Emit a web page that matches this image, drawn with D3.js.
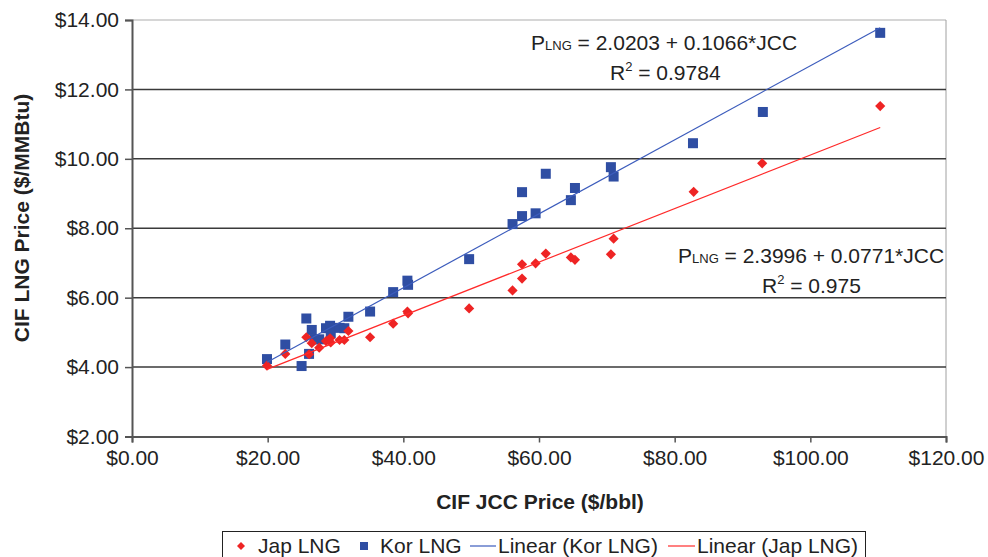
<!DOCTYPE html>
<html>
<head>
<meta charset="utf-8">
<script src="https://cdn.jsdelivr.net/npm/d3@7"></script>
<style>
  html, body { margin: 0; padding: 0; background: #fff; }
  svg { display: block; font-family: "Liberation Sans", Arial, sans-serif; }
</style>
</head>
<body>
<svg id="chart" width="988" height="557"></svg>
<script>
// CIF JCC price ($/bbl) and matching CIF LNG prices ($/MMBtu)
const korJcc = [19.9, 22.6, 25.0, 25.7, 26.1, 26.5, 26.9, 27.6, 28.6, 29.2, 29.3, 30.6, 31.3, 31.9,
  35.1, 38.5, 40.6, 40.7, 49.7, 56.1, 57.5, 57.5, 59.5, 61.0, 64.7, 65.3, 70.6, 71.0, 82.7, 93.0, 110.3];
const korLng = [4.23, 4.65, 4.03, 5.40, 4.38, 5.07, 4.80, 4.80, 5.12, 5.19, 4.97, 5.13, 5.12, 5.45,
  5.60, 6.16, 6.49, 6.37, 7.11, 8.12, 8.35, 9.04, 8.43, 9.57, 8.81, 9.16, 9.76, 9.49, 10.45, 11.35, 13.63];

const japJcc = [19.9, 22.6, 25.7, 26.1, 26.5, 27.6, 28.6, 29.2, 29.3, 30.6, 31.3, 31.9,
  35.1, 38.5, 40.6, 40.7, 49.7, 56.1, 57.5, 57.5, 59.5, 61.0, 64.7, 65.3, 70.6, 71.0, 82.8, 92.9, 110.3];
const japLng = [4.04, 4.38, 4.86, 4.37, 4.69, 4.56, 4.75, 4.83, 4.71, 4.78, 4.78, 5.04,
  4.86, 5.25, 5.60, 5.55, 5.69, 6.21, 6.55, 6.96, 6.99, 7.27, 7.16, 7.09, 7.25, 7.70, 9.05, 9.87, 11.52];

// Linear trend fits: [intercept, slope, R²]
const korFit = [2.0203, 0.1066, 0.9784];
const japFit = [2.3996, 0.0771, 0.975];

const xTicks = [0, 20, 40, 60, 80, 100, 120];
const yTicks = [2, 4, 6, 8, 10, 12, 14];

const KOR_COLOR = "#2f4ea3";
const JAP_COLOR = "#ee2424";

const svg = d3.select("#chart");
const plotL = 132, plotR = 946, plotT = 20, plotB = 436.5;

const x = d3.scaleLinear().domain([0, 120]).range([plotL, plotR]);
const y = d3.scaleLinear().domain([2, 14]).range([plotB, plotT]);
const money = d => "$" + d3.format(".2f")(d);

// plot frame (top and right edges in light gray)
svg.append("line").attr("x1", plotL).attr("x2", plotR).attr("y1", plotT).attr("y2", plotT)
  .attr("stroke", "#c8c8c8").attr("stroke-width", 1.5);
svg.append("line").attr("x1", plotR).attr("x2", plotR).attr("y1", plotT).attr("y2", plotB)
  .attr("stroke", "#a0a0a0").attr("stroke-width", 1);

// horizontal gridlines
svg.append("g").selectAll("line")
  .data(yTicks.filter(d => d > 2 && d < 14))
  .join("line")
  .attr("x1", plotL).attr("x2", plotR)
  .attr("y1", d => y(d)).attr("y2", d => y(d))
  .attr("stroke", "#3a3a3a").attr("stroke-width", 1.5);

// axes
const yAxis = svg.append("g").attr("transform", `translate(${plotL},0)`)
  .call(d3.axisLeft(y).tickValues(yTicks).tickFormat(money).tickSize(7).tickPadding(6));
const xAxis = svg.append("g").attr("transform", `translate(0,${plotB})`)
  .call(d3.axisBottom(x).tickValues(xTicks).tickFormat(money).tickSize(6).tickPadding(8));
[yAxis, xAxis].forEach(g => {
  g.select(".domain").attr("stroke", "#555").attr("stroke-width", 2);
  g.selectAll(".tick line").attr("stroke", "#555").attr("stroke-width", 1.5);
  g.selectAll(".tick text").attr("fill", "#222").attr("font-size", 21)
    .attr("font-family", "Liberation Sans, Arial, sans-serif");
});

// axis titles
svg.append("text").attr("x", 540).attr("y", 509).attr("text-anchor", "middle")
  .attr("font-size", 21).attr("font-weight", "bold").attr("fill", "#222")
  .text("CIF JCC Price ($/bbl)");
svg.append("text").attr("transform", "translate(29,218) rotate(-90)").attr("text-anchor", "middle")
  .attr("font-size", 21).attr("font-weight", "bold").attr("fill", "#222")
  .text("CIF LNG Price ($/MMBtu)");

// data points: Korea as squares, Japan as diamonds
svg.append("g").selectAll("rect")
  .data(d3.zip(korJcc, korLng))
  .join("rect")
  .attr("x", d => x(d[0]) - 5).attr("y", d => y(d[1]) - 5)
  .attr("width", 10).attr("height", 10)
  .attr("fill", KOR_COLOR);
svg.append("g").selectAll("path")
  .data(d3.zip(japJcc, japLng))
  .join("path")
  .attr("d", d3.symbol().type(d3.symbolSquare).size(52))
  .attr("transform", d => `translate(${x(d[0])},${y(d[1])}) rotate(45)`)
  .attr("fill", JAP_COLOR);

// trend lines over the range of the data
const xMin = d3.min(korJcc), xMax = d3.max(korJcc);
function trend(fit, color) {
  svg.append("line")
    .attr("x1", x(xMin)).attr("y1", y(fit[0] + fit[1] * xMin))
    .attr("x2", x(xMax)).attr("y2", y(fit[0] + fit[1] * xMax))
    .attr("stroke", color).attr("stroke-width", 1.2);
}
trend(korFit, "#3c5cbc");
trend(japFit, "#ff2a2a");

// equation labels
function equation(fit, px, py, rx) {
  const t = svg.append("text").attr("x", px).attr("y", py)
    .attr("font-size", 21).attr("fill", "#222").attr("xml:space", "preserve");
  t.append("tspan").text("P");
  t.append("tspan").attr("font-size", 13).text("LNG");
  t.append("tspan").text(" = " + fit[0].toFixed(4) + " + " + fit[1].toFixed(4) + "*JCC");
  const r = svg.append("text").attr("x", rx).attr("y", py + 30)
    .attr("font-size", 21).attr("fill", "#222");
  r.append("tspan").text("R");
  r.append("tspan").attr("font-size", 13).attr("dy", -9).text("2");
  r.append("tspan").attr("dy", 9).text(" = " + fit[2]);
}
equation(korFit, 531, 50, 610);
equation(japFit, 678, 263, 762);

// legend
const lg = svg.append("g");
lg.append("rect").attr("x", 222.5).attr("y", 531.5).attr("width", 643).attr("height", 30)
  .attr("fill", "#fff").attr("stroke", "#222").attr("stroke-width", 1);
lg.append("path").attr("d", d3.symbol().type(d3.symbolSquare).size(32))
  .attr("transform", "translate(241,546) rotate(45)").attr("fill", JAP_COLOR);
lg.append("text").attr("x", 258).attr("y", 553).attr("font-size", 21).attr("fill", "#222").text("Jap LNG");
lg.append("rect").attr("x", 360).attr("y", 542).attr("width", 8).attr("height", 8).attr("fill", KOR_COLOR);
lg.append("text").attr("x", 380).attr("y", 553).attr("font-size", 21).attr("fill", "#222").text("Kor LNG");
lg.append("line").attr("x1", 470).attr("x2", 496).attr("y1", 546).attr("y2", 546)
  .attr("stroke", "#3c5cbc").attr("stroke-width", 1.2);
lg.append("text").attr("x", 498).attr("y", 553).attr("font-size", 21).attr("fill", "#222").text("Linear (Kor LNG)");
lg.append("line").attr("x1", 668).attr("x2", 695).attr("y1", 546).attr("y2", 546)
  .attr("stroke", "#ff2a2a").attr("stroke-width", 1.2);
lg.append("text").attr("x", 697).attr("y", 553).attr("font-size", 21).attr("fill", "#222").text("Linear (Jap LNG)");
</script>
</body>
</html>
